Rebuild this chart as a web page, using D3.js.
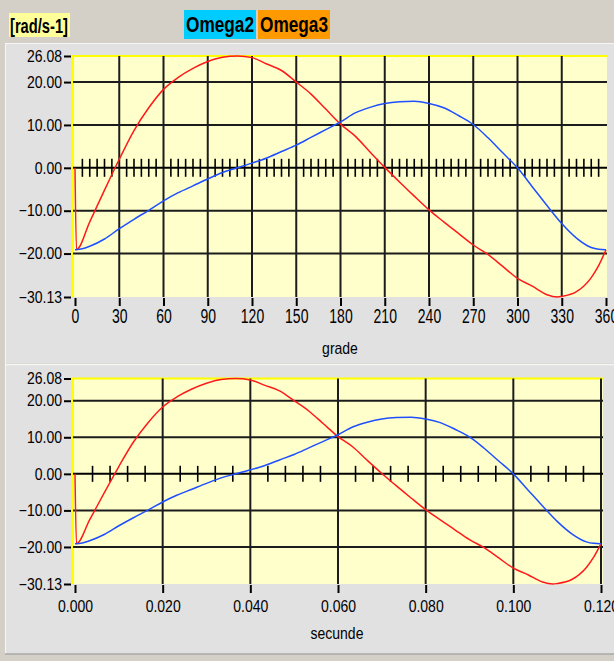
<!DOCTYPE html>
<html>
<head>
<meta charset="utf-8">
<script src="https://cdn.jsdelivr.net/npm/d3@7"></script>
<style>
  body { margin: 0; background: #d4d0c8; }
  svg { display: block; font-family: "Liberation Sans", Arial, sans-serif; }
  .stretch { transform-box: fill-box; transform-origin: center; }
</style>
</head>
<body>
<svg id="chart" width="614" height="661"></svg>
<script>

// crank angle samples [grade] and angular velocities [rad/s-1]
const omega2Deg = [0, 5, 10, 20, 30, 40, 50, 60, 70, 80, 90, 100, 110, 120, 130, 140, 150, 160, 170, 180,
  190, 200, 210, 220, 230, 240, 250, 260, 270, 280, 290, 300, 310, 320, 330, 340, 350, 355, 360];
const omega2 = [-19.1, -18.9, -18.3, -16.6, -14.2, -12.0, -9.9, -7.7, -5.8, -4.2, -2.6, -1.1, 0.0, 1.1, 2.3, 3.8,
  5.3, 7.1, 8.9, 10.7, 12.8, 14.1, 15.0, 15.4, 15.5, 15.0, 14.0, 12.2, 10.1, 7.0, 3.5, 0.0, -4.4, -8.8,
  -13.0, -16.4, -18.6, -19.0, -19.1];

const omega3Deg = [0, 1, 10, 20, 30, 40, 50, 60, 70, 80, 90, 100, 110, 120, 130, 140, 150, 160, 170, 180,
  190, 200, 210, 220, 230, 240, 250, 260, 270, 280, 290, 300, 310, 320, 327, 330, 340, 350, 355, 360];
const omega3 = [0, -19.1, -12.6, -5.2, 2.0, 8.7, 14.0, 18.3, 21.1, 23.2, 24.8, 25.8, 26.08, 25.7, 24.2,
  22.7, 20.0, 17.2, 13.7, 10.2, 7.4, 3.7, 0.1, -3.3, -6.6, -9.8, -12.6, -15.3, -18.0, -20.2, -23.0, -25.8,
  -27.6, -29.6, -30.13, -30.0, -28.9, -25.6, -22.8, -19.1];

const seriesNames = ['Omega2', 'Omega3'];
const yTicks = [26.08, 20, 10, 0, -10, -20, -30.13];
const yGrid = [20, 10, -10, -20];
const gradeTicks = [0, 30, 60, 90, 120, 150, 180, 210, 240, 270, 300, 330, 360];
const secTicks = [0, 0.02, 0.04, 0.06, 0.08, 0.1, 0.12];
const cycleTime = 0.12; // one turn (360 grade) in secunde

const svg = d3.select('#chart');

// PANELS (window chrome)
svg.append('rect').attr('x', 5).attr('y', 43).attr('width', 609).attr('height', 320).attr('fill', '#e1e1e1');
svg.append('rect').attr('x', 5).attr('y', 364).attr('width', 609).attr('height', 290).attr('fill', '#e1e1e1');
svg.append('line').attr('x1', 5).attr('x2', 614).attr('y1', 43.5).attr('y2', 43.5).attr('stroke', '#f6f6f6');
svg.append('line').attr('x1', 5).attr('x2', 614).attr('y1', 364.5).attr('y2', 364.5).attr('stroke', '#f6f6f6').attr('stroke-width', 1.5);
svg.append('line').attr('x1', 5.5).attr('x2', 5.5).attr('y1', 43).attr('y2', 654).attr('stroke', '#f6f6f6');
svg.append('line').attr('x1', 5).attr('x2', 614).attr('y1', 654).attr('y2', 654).attr('stroke', '#a8a8a8').attr('stroke-width', 1.5);

// UNIT + LEGEND
svg.append('rect').attr('x', 9).attr('y', 13).attr('width', 61).attr('height', 24).attr('fill', '#ffff99');
svg.append('text').attr('class', 'stretch')
  .attr('x', 10).attr('y', 31).attr('font-size', 15).attr('font-weight', 'bold')
  .attr('textLength', 58).attr('lengthAdjust', 'spacingAndGlyphs')
  .style('transform', 'scaleY(1.35)')
  .text('[rad/s-1]');

const legendColors = d3.scaleOrdinal().domain(seriesNames).range(['#00ccff', '#ff9900']);
const legend = svg.selectAll('.legend').data(seriesNames).enter()
  .append('g').attr('class', 'legend')
  .attr('transform', (d, i) => `translate(${184 + i * 74}, 10)`);
legend.append('rect').attr('width', 72).attr('height', 29).attr('fill', d => legendColors(d));
legend.append('text').attr('class', 'stretch')
  .attr('x', 2).attr('y', 21).attr('font-size', 17).attr('font-weight', 'bold')
  .attr('textLength', 68).attr('lengthAdjust', 'spacingAndGlyphs')
  .style('transform', 'scaleY(1.25)')
  .text(d => d);

function drawPanel(opt) {
  const g = svg.append('g');
  const x = d3.scaleLinear().domain(opt.xDomain).range([opt.x0, opt.x1]);
  const y = d3.scaleLinear().domain([-30.13, 26.08]).range([opt.bottom, opt.top]);

  // PLOT AREA
  g.append('rect').attr('x', opt.left).attr('y', opt.top)
    .attr('width', opt.right - opt.left).attr('height', opt.bottom - opt.top)
    .attr('fill', '#ffffcc');
  g.append('path').attr('d', `M${opt.left},${opt.bottom}V${opt.top}H${opt.right}`)
    .attr('fill', 'none').attr('stroke', '#ffff00').attr('stroke-width', 2);

  // GRID
  g.selectAll('.hgrid').data(yGrid).enter().append('line')
    .attr('x1', opt.left).attr('x2', opt.right)
    .attr('y1', d => y(d)).attr('y2', d => y(d))
    .attr('stroke', '#1c1c1c').attr('stroke-width', 2);
  g.selectAll('.vgrid').data(opt.vGrid).enter().append('line')
    .attr('x1', d => x(d)).attr('x2', d => x(d))
    .attr('y1', opt.top).attr('y2', opt.bottom)
    .attr('stroke', '#1c1c1c').attr('stroke-width', 2);

  // ZERO LINE WITH MINOR TICKS
  g.append('line').attr('x1', opt.left).attr('x2', opt.right)
    .attr('y1', y(0)).attr('y2', y(0))
    .attr('stroke', '#000').attr('stroke-width', 2);
  g.selectAll('.minor').data(opt.minor).enter().append('line')
    .attr('x1', d => x(d)).attr('x2', d => x(d))
    .attr('y1', y(0) - opt.minorLen).attr('y2', y(0) + opt.minorLen)
    .attr('stroke', '#000').attr('stroke-width', 1.6);

  // CURVES
  const line = d3.line().x(d => x(d[0])).y(d => y(d[1])).curve(d3.curveMonotoneX);
  const curves = [
    {name: 'Omega3', color: '#ff1a1a', pts: d3.zip(omega3Deg.map(opt.fromDeg), omega3)},
    {name: 'Omega2', color: '#1f4fff', pts: d3.zip(omega2Deg.map(opt.fromDeg), omega2)}
  ];
  g.selectAll('.curve').data(curves).enter().append('path')
    .attr('d', d => line(d.pts))
    .attr('fill', 'none').attr('stroke', d => d.color).attr('stroke-width', 1.5);

  // AXES
  const yAxis = g.append('g').attr('transform', `translate(${opt.left - 2},0)`)
    .call(d3.axisLeft(y).tickValues(yTicks).tickFormat(d3.format('.2f')).tickSize(7).tickPadding(2));
  const xAxis = g.append('g').attr('transform', `translate(0,${opt.bottom + 1})`)
    .call(d3.axisBottom(x).tickValues(opt.ticks).tickFormat(opt.fmt).tickSize(8).tickPadding(opt.xPad));
  [yAxis, xAxis].forEach(a => {
    a.select('.domain').remove();
    a.selectAll('.tick line').attr('stroke', '#000').attr('stroke-width', 2);
    a.selectAll('.tick text').attr('fill', '#000').attr('font-size', 14)
      .attr('font-family', '"Liberation Sans", Arial, sans-serif');
  });
  yAxis.selectAll('.tick text').attr('class', 'stretch').style('transform', 'scaleY(1.15)');
  xAxis.selectAll('.tick text').attr('class', 'stretch').style('transform', `scaleY(${opt.xStretch})`);

  g.append('text').attr('class', 'stretch')
    .attr('x', opt.labelX).attr('y', opt.labelY).attr('text-anchor', 'middle')
    .attr('font-size', 14).style('transform', 'scaleY(1.2)')
    .text(opt.label);
}

drawPanel({
  xDomain: [0, 360], x0: 75, x1: 606, left: 73, right: 607, top: 56, bottom: 297,
  vGrid: gradeTicks.slice(1, -1),
  minor: d3.range(1, 72).filter(i => i % 6 !== 0).map(i => i * 5),
  minorLen: 9,
  fromDeg: d => d,
  ticks: gradeTicks, fmt: d3.format('d'), xPad: 5, xStretch: 1.45,
  label: 'grade', labelX: 340, labelY: 353
});

drawPanel({
  xDomain: [0, cycleTime], x0: 75, x1: 601, left: 73, right: 603, top: 378.5, bottom: 584,
  vGrid: secTicks.slice(1),
  minor: d3.range(1, 30).filter(i => i % 5 !== 0).map(i => i * 0.004),
  minorLen: 8,
  fromDeg: d => d / 360 * cycleTime,
  ticks: secTicks, fmt: d3.format('.3f'), xPad: 8, xStretch: 1.15,
  label: 'secunde', labelX: 337, labelY: 638
});

</script>
</body>
</html>
